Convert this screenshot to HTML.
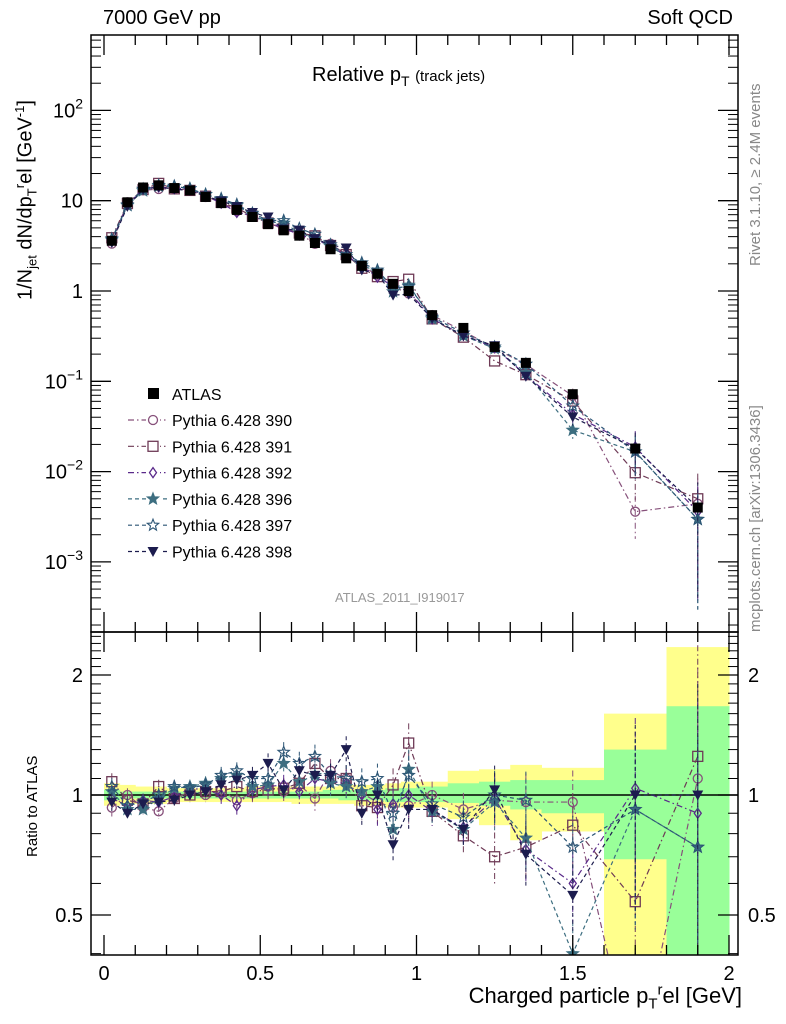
<!DOCTYPE html>
<html><head><meta charset="utf-8"><style>
html,body{margin:0;background:#fff;width:786px;height:1024px;overflow:hidden}
svg{display:block;font-family:"Liberation Sans",sans-serif}
</style></head><body>
<svg id="c" width="786" height="1024" viewBox="0 0 786 1024"></svg>
<script>
const binLo=[0,0.05,0.1,0.15,0.2,0.25,0.3,0.35,0.4,0.45,0.5,0.55,0.6,0.65,0.7,0.75,0.8,0.85,0.9,0.95,1.0,1.1,1.2,1.3,1.4,1.6,1.8];
const binHi=[0.05,0.1,0.15,0.2,0.25,0.3,0.35,0.4,0.45,0.5,0.55,0.6,0.65,0.7,0.75,0.8,0.85,0.9,0.95,1.0,1.1,1.2,1.3,1.4,1.6,1.8,2.0];
const atlas=[3.6,9.6,14,14.8,13.8,13,11,9.4,7.9,6.6,5.5,4.7,4.1,3.4,2.9,2.3,1.9,1.55,1.2,1.0,0.54,0.39,0.24,0.16,0.072,0.018,0.004];
const bandYellowLo=[0.94,0.95,0.95,0.95,0.96,0.96,0.96,0.96,0.96,0.96,0.96,0.96,0.95,0.95,0.95,0.95,0.94,0.94,0.93,0.93,0.93,0.87,0.84,0.77,0.81,0.3,0.3];
const bandYellowHi=[1.07,1.06,1.05,1.05,1.04,1.04,1.04,1.04,1.04,1.05,1.05,1.05,1.05,1.05,1.05,1.06,1.06,1.06,1.07,1.08,1.08,1.15,1.16,1.19,1.17,1.6,2.35];
const bandGreenLo=[0.97,0.98,0.98,0.98,0.98,0.98,0.98,0.98,0.98,0.98,0.98,0.98,0.98,0.98,0.98,0.97,0.97,0.97,0.96,0.96,0.96,0.955,0.94,0.92,0.9,0.69,0.3];
const bandGreenHi=[1.03,1.02,1.02,1.02,1.02,1.02,1.02,1.02,1.02,1.02,1.02,1.02,1.02,1.02,1.03,1.03,1.03,1.03,1.04,1.04,1.05,1.07,1.08,1.09,1.09,1.30,1.67];
const relErr=[0.05,0.04,0.04,0.04,0.04,0.04,0.04,0.05,0.05,0.05,0.06,0.06,0.07,0.07,0.07,0.08,0.08,0.09,0.1,0.12,0.08,0.1,0.15,0.18,0.2,0.5,0.9];
const r390=[0.93,1.0,0.93,0.91,0.98,1.02,1.0,1.03,0.97,1.01,1.05,1.02,1.06,0.98,1.15,1.1,1.01,0.96,0.93,0.94,1.0,0.92,0.97,0.96,0.96,0.2,1.1];
const r391=[1.08,0.97,0.95,1.05,0.98,1.0,1.02,1.02,1.05,1.02,1.03,1.04,1.07,1.2,1.1,1.1,0.94,0.93,1.06,1.35,0.91,0.79,0.70,0.74,0.84,0.54,1.25];
const r392=[0.98,0.94,0.97,0.96,0.99,1.04,1.03,1.0,0.94,1.03,1.05,1.06,1.02,1.1,1.08,1.07,1.0,0.92,0.95,1.0,0.91,0.83,0.98,0.73,0.60,1.04,0.9];
const r396=[1.02,0.92,0.92,0.98,1.04,1.05,1.07,1.1,1.12,1.05,1.06,1.2,1.08,1.12,1.07,1.05,1.02,1.05,0.82,1.16,0.91,0.82,0.96,0.78,0.4,0.92,0.74];
const r397=[1.05,0.94,0.96,1.0,1.05,1.04,1.06,1.12,1.15,1.1,1.1,1.28,1.2,1.25,1.12,1.1,1.08,1.1,0.9,1.12,0.95,0.88,1.0,0.97,0.74,0.92,0.74];
const r398=[0.96,0.9,0.95,0.96,0.97,1.0,1.02,1.06,1.09,1.12,1.2,1.03,1.15,1.12,1.12,1.3,0.9,1.0,0.75,0.92,0.92,0.82,1.03,0.71,0.56,1.0,1.0];
const seriesNames=["Pythia 6.428 390","Pythia 6.428 391","Pythia 6.428 392","Pythia 6.428 396","Pythia 6.428 397","Pythia 6.428 398"];
const seriesRatios=[r390,r391,r392,r396,r397,r398];
const mainTicks=[2,1,0,-1,-2,-3];
const ratioTicks=[2,1,0.5];
const xTicks=[0,0.5,1,1.5,2];

const NS="http://www.w3.org/2000/svg";
const svg=document.getElementById('c');
function el(t,a,p){const e=document.createElementNS(NS,t);for(const k in a)e.setAttribute(k,a[k]);(p||svg).appendChild(e);return e;}
const L=91,R=738,T=35,MID=632,B=955;
const X=v=>104+v*312.5;
const Y=v=>291-Math.log10(v)*90.3;
const RY=v=>795-Math.log2(v)*120;
const cols=["#86507a","#6e3a56","#5a2a8a","#3d6e80","#2c5575","#1c1c4e"];
const dashes=["6,3,1.5,3","6,3,1.5,3","6,3,1.5,3","4,3","4,3","4,3"];
const markers=["circle","square","diamond","starF","starO","tri"];

function marker(g,type,x,y,c){
  if(type==="circle")el('circle',{cx:x,cy:y,r:4.5,fill:'none',stroke:c,'stroke-width':1.3},g);
  else if(type==="square")el('rect',{x:x-5,y:y-5,width:10,height:10,fill:'none',stroke:c,'stroke-width':1.3},g);
  else if(type==="diamond")el('polygon',{points:`${x},${y-5} ${x+3.5},${y} ${x},${y+5} ${x-3.5},${y}`,fill:'none',stroke:c,'stroke-width':1.3},g);
  else if(type==="tri")el('polygon',{points:`${x-5.5},${y-4.5} ${x+5.5},${y-4.5} ${x},${y+5.5}`,fill:c},g);
  else{let p=[];for(let i=0;i<10;i++){const r=i%2?2.6:6;const a=-Math.PI/2+i*Math.PI/5;p.push((x+r*Math.cos(a)).toFixed(1)+','+(y+r*Math.sin(a)).toFixed(1));}
    el('polygon',{points:p.join(' '),fill:type==="starF"?c:'none',stroke:c,'stroke-width':1.1},g);}
}

const defs=el('defs',{});
const cp1=el('clipPath',{id:'cm'},defs);el('rect',{x:L,y:T,width:R-L,height:MID-T},cp1);
const cp2=el('clipPath',{id:'cr'},defs);el('rect',{x:L,y:MID,width:R-L,height:B-MID},cp2);

const bands=el('g',{'clip-path':'url(#cr)'});

binLo.forEach((lo,i)=>{
  el('rect',{x:X(lo),y:RY(bandYellowHi[i]),width:X(binHi[i])-X(lo)+0.5,height:RY(bandYellowLo[i])-RY(bandYellowHi[i]),fill:'#ffff8c'},bands);
});
binLo.forEach((lo,i)=>{
  el('rect',{x:X(lo),y:RY(bandGreenHi[i]),width:X(binHi[i])-X(lo)+0.5,height:RY(bandGreenLo[i])-RY(bandGreenHi[i]),fill:'#99ff99'},bands);
});
el('line',{x1:L,x2:R,y1:RY(1),y2:RY(1),stroke:'#000','stroke-width':1.5});

const mids=binLo.map((lo,i)=>(lo+binHi[i])/2);

seriesRatios.forEach((rat,s)=>{
  const c=cols[s];
  const gm=el('g',{'clip-path':'url(#cm)'});
  
  const gr=el('g',{'clip-path':'url(#cr)'});
  
  const vals=rat.map((r,i)=>atlas[i]*r);
  el('polyline',{points:mids.map((m,i)=>X(m)+','+Y(vals[i])).join(' '),fill:'none',stroke:c,'stroke-width':1.2,'stroke-dasharray':dashes[s]},gm);
  el('polyline',{points:mids.map((m,i)=>X(m)+','+RY(rat[i])).join(' '),fill:'none',stroke:c,'stroke-width':1.2,'stroke-dasharray':dashes[s]},gr);
  mids.forEach((m,i)=>{
    const e=relErr[i];
    const lo=Math.max(rat[i]*(1-e),0.05);
    el('line',{x1:X(m),x2:X(m),y1:RY(rat[i]*(1+e)),y2:RY(lo),stroke:c,'stroke-width':1,'stroke-dasharray':dashes[s]},gr);
    if(i>=24){el('line',{x1:X(m),x2:X(m),y1:Y(vals[i]*(1+e)),y2:Y(Math.max(vals[i]*(1-e),1e-5)),stroke:c,'stroke-width':1,'stroke-dasharray':dashes[s]},gm);}
    marker(gm,markers[s],X(m),Y(vals[i]),c);
    marker(gr,markers[s],X(m),RY(rat[i]),c);
  });
});
const ga=el('g',{'clip-path':'url(#cm)'});

mids.forEach((m,i)=>{el('rect',{x:X(m)-5,y:Y(atlas[i])-5,width:10,height:10,fill:'#000'},ga);});

el('rect',{x:L,y:T,width:R-L,height:MID-T,fill:'none',stroke:'#000','stroke-width':1.5});
el('rect',{x:L,y:MID,width:R-L,height:B-MID,fill:'none',stroke:'#000','stroke-width':1.5});

mainTicks.forEach(p=>{
  const y=Y(Math.pow(10,p));
  el('line',{x1:L,x2:L+20,y1:y,y2:y,stroke:'#000','stroke-width':1.3});
  el('line',{x1:R-20,x2:R,y1:y,y2:y,stroke:'#000','stroke-width':1.3});
  for(let k=2;k<=9;k++){const yy=Y(k*Math.pow(10,p));if(yy>T&&yy<MID){el('line',{x1:L,x2:L+10,y1:yy,y2:yy,stroke:'#000'});el('line',{x1:R-10,x2:R,y1:yy,y2:yy,stroke:'#000'});}}
  const t=el('text',{x:L-8,y:y+7,'text-anchor':'end','font-size':20});
  
  if(p===0)t.textContent='1';else if(p===1)t.textContent='10';
  else{t.textContent='10';const s=el('tspan',{dy:-9,'font-size':14},t);s.textContent=String(p).replace('-','\u2212');}
});
[2,3,4,5,6,7,8,9].forEach(k=>{const yy=Y(k*1e-4);if(yy<MID){el('line',{x1:L,x2:L+10,y1:yy,y2:yy,stroke:'#000'});el('line',{x1:R-10,x2:R,y1:yy,y2:yy,stroke:'#000'});}});
ratioTicks.forEach(v=>{
  const y=RY(v);
  el('line',{x1:L,x2:L+20,y1:y,y2:y,stroke:'#000','stroke-width':1.3});
  el('line',{x1:R-20,x2:R,y1:y,y2:y,stroke:'#000','stroke-width':1.3});
  const t=el('text',{x:L-8,y:y+7,'text-anchor':'end','font-size':20});t.textContent=v;
  
  const t2=el('text',{x:R+10,y:y+7,'font-size':20});t2.textContent=v;
  
});
[0.4,0.6,0.7,0.8,0.9,1.1,1.2,1.3,1.4,1.5,1.6,1.7,1.8,1.9,2.1,2.2,2.3,2.4,2.5].forEach(v=>{const yy=RY(v);if(yy>MID&&yy<B){el('line',{x1:L,x2:L+10,y1:yy,y2:yy,stroke:'#000'});el('line',{x1:R-10,x2:R,y1:yy,y2:yy,stroke:'#000'});}});
for(let v=0;v<=2.0001;v+=0.1){
  const x=X(v);const major=Math.abs(v*2-Math.round(v*2))<1e-6;const h=major?20:10;
  el('line',{x1:x,x2:x,y1:B-h,y2:B,stroke:'#000','stroke-width':1.3});
  el('line',{x1:x,x2:x,y1:MID,y2:MID+h,stroke:'#000','stroke-width':1.3});
  el('line',{x1:x,x2:x,y1:MID-h,y2:MID,stroke:'#000','stroke-width':1.3});
  el('line',{x1:x,x2:x,y1:T,y2:T+h,stroke:'#000','stroke-width':1.3});
}
xTicks.forEach(v=>{const t=el('text',{x:X(v),y:980,'text-anchor':'middle','font-size':20});t.textContent=v;
  });

const lg=el('g',{});
el('rect',{x:148,y:388,width:11,height:11,fill:'#000'},lg);
const at=el('text',{x:172,y:400,'font-size':16},lg);at.textContent='ATLAS';
seriesNames.forEach((n,s)=>{
  const y=420+s*26.3;
  const item=el('g',{},lg);
  el('line',{x1:128,x2:168,y1:y,y2:y,stroke:cols[s],'stroke-width':1.2,'stroke-dasharray':dashes[s]},item);
  el('rect',{x:146,y:y-7,width:14,height:14,fill:'#fff'},item);
  marker(item,markers[s],153,y,cols[s]);
  const t=el('text',{x:172,y:y+6,'font-size':16},item);t.textContent=n;
});
</script>
<div style="position:absolute;left:0;top:0;width:786px;height:1024px;overflow:hidden;font-family:'Liberation Sans',sans-serif;pointer-events:none">
<div style="position:absolute;left:103px;top:7px;font-size:20px">7000 GeV pp</div>
<div style="position:absolute;right:53px;top:7px;font-size:20px">Soft QCD</div>
<div style="position:absolute;left:312px;top:64px;font-size:20px">Relative p<sub style="font-size:14px">T</sub> <span style="font-size:15px">(track jets)</span></div>
<div style="position:absolute;left:20px;top:160px;font-size:20px;transform-origin:0 0;transform:translate(-8px,140px) rotate(-90deg);white-space:nowrap">1/N<sub style="font-size:13px">jet</sub> dN/dp<sub style="font-size:13px">T</sub><sup style="font-size:13px">r</sup>el [GeV<sup style="font-size:13px">-1</sup>]</div>
<div style="position:absolute;left:24px;top:857px;font-size:15px;transform-origin:0 0;transform:rotate(-90deg);white-space:nowrap">Ratio to ATLAS</div>
<div style="position:absolute;left:747px;top:266px;font-size:15px;color:#888;transform-origin:0 0;transform:rotate(-90deg);white-space:nowrap">Rivet 3.1.10, ≥ 2.4M events</div>
<div style="position:absolute;left:747px;top:632px;font-size:15px;color:#888;transform-origin:0 0;transform:rotate(-90deg);white-space:nowrap">mcplots.cern.ch [arXiv:1306.3436]</div>
<div style="position:absolute;left:335px;top:590px;font-size:13px;color:#999">ATLAS_2011_I919017</div>
<div style="position:absolute;right:44px;top:983px;font-size:22px;line-height:26px;white-space:nowrap">Charged particle p<sub style="font-size:15px;line-height:0">T</sub><sup style="font-size:15px;line-height:0">r</sup>el [GeV]</div>
</div>
</body></html>
